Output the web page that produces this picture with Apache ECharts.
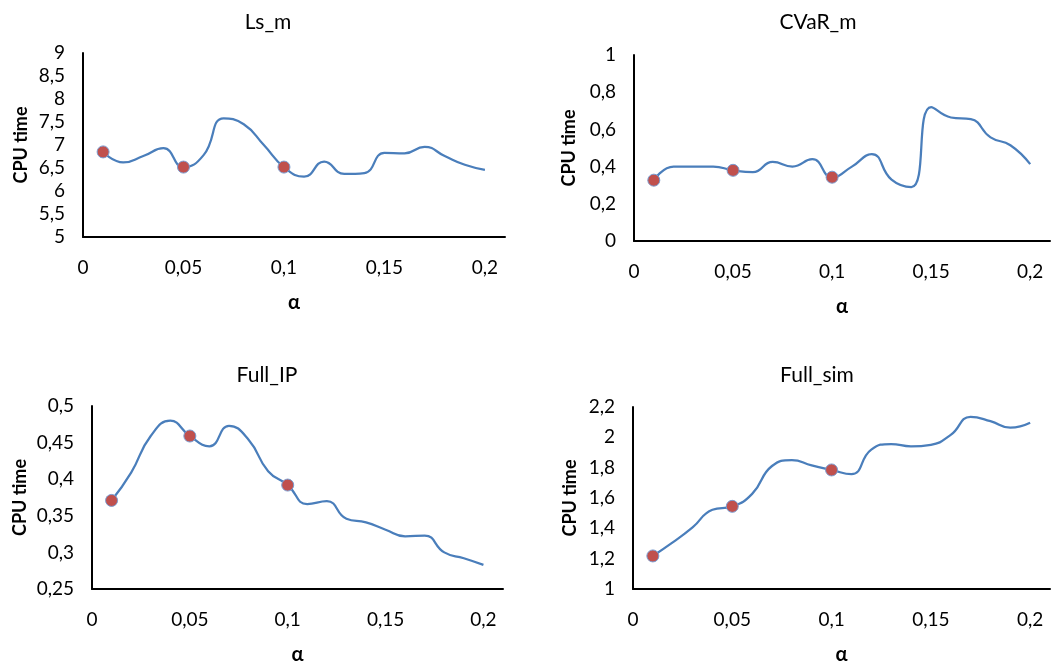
<!DOCTYPE html>
<html>
<head>
<meta charset="utf-8">
<script src="https://cdn.jsdelivr.net/npm/echarts@6/dist/echarts.min.js"></script>
<style>
  html, body { margin: 0; padding: 0; background: #fff; }
  #chart { width: 1053px; height: 666px; }
</style>
</head>
<body>
<div id="chart"></div>
<script>
// Significance level α and CPU time per method
const alpha = [0.01, 0.02, 0.03, 0.04, 0.05, 0.06, 0.07, 0.08, 0.09, 0.10,
               0.11, 0.12, 0.13, 0.14, 0.15, 0.16, 0.17, 0.18, 0.19, 0.20];
const lsM     = [6.85, 6.62, 6.76, 6.93, 6.52, 6.78, 7.58, 7.45, 7.00, 6.52,
                 6.31, 6.64, 6.37, 6.39, 6.83, 6.82, 6.96, 6.76, 6.57, 6.46];
const cvarM   = [0.327, 0.40, 0.40, 0.40, 0.38, 0.37, 0.425, 0.40, 0.44, 0.343,
                 0.40, 0.467, 0.33, 0.29, 0.72, 0.664, 0.655, 0.557, 0.515, 0.413];
const fullIP  = [0.371, 0.409, 0.459, 0.480, 0.459, 0.445, 0.473, 0.454, 0.411, 0.392,
                 0.366, 0.370, 0.346, 0.341, 0.331, 0.322, 0.323, 0.300, 0.292, 0.283];
const fullSim = [1.218, 1.307, 1.406, 1.523, 1.545, 1.627, 1.811, 1.850, 1.815, 1.785,
                 1.757, 1.919, 1.956, 1.941, 1.951, 2.016, 2.135, 2.107, 2.064, 2.096];
// α levels highlighted with a marker
const markedAlpha = [0.01, 0.05, 0.10];

const panelTitles = ['Ls_m', 'CVaR_m', 'Full_IP', 'Full_sim'];
const panelSeries = [lsM, cvarM, fullIP, fullSim];
const yRanges = [[5, 9, 0.5], [0, 1, 0.2], [0.25, 0.5, 0.05], [1, 2.2, 0.2]];

const grids = [
  { left: 83,  top: 53,  width: 422, height: 184 },
  { left: 634, top: 55,  width: 421, height: 186 },
  { left: 92,  top: 406, width: 411, height: 185 },
  { left: 633, top: 407, width: 421, height: 185 }
];
const titlePos = [[263, 7], [813, 7], [262, 360], [812, 360]];
const yNameGap = [53, 56, 63, 54];

const FONT = 'Lato, "Open Sans", sans-serif';
const comma = v => String(+(+v).toFixed(3)).replace('.', ',');

const option = {
  backgroundColor: '#fff',
  animation: false,
  title: panelTitles.map((t, i) => ({
    text: t,
    left: titlePos[i][0],
    top: titlePos[i][1],
    textAlign: 'center',
    textStyle: { fontFamily: FONT, fontSize: 21, fontWeight: 'normal', color: '#000' }
  })),
  grid: grids,
  xAxis: grids.map((g, i) => ({
    type: 'value',
    gridIndex: i,
    min: 0,
    max: 0.21,
    interval: 0.05,
    name: 'α',
    nameLocation: 'middle',
    nameGap: 56,
    nameTextStyle: { fontFamily: FONT, fontSize: 20, fontWeight: 'bold', color: '#000' },
    axisLine: { show: true, onZero: false, lineStyle: { color: '#000', width: 2 } },
    axisTick: { show: false },
    splitLine: { show: false },
    axisLabel: {
      margin: 21,
      fontFamily: FONT, fontSize: 19, color: '#000',
      formatter: v => (v > 0.2001 ? '' : comma(v))
    }
  })),
  yAxis: grids.map((g, i) => ({
    type: 'value',
    gridIndex: i,
    min: yRanges[i][0],
    max: yRanges[i][1],
    interval: yRanges[i][2],
    name: 'CPU time',
    nameLocation: 'middle',
    nameGap: yNameGap[i],
    nameTextStyle: { fontFamily: FONT, fontSize: 18, fontWeight: 'bold', color: '#000' },
    axisLine: { show: true, onZero: false, lineStyle: { color: '#000', width: 2 } },
    axisTick: { show: false },
    splitLine: { show: false },
    axisLabel: {
      margin: 18,
      fontFamily: FONT, fontSize: 19, color: '#000',
      formatter: v => comma(v)
    }
  })),
  series: []
};

panelSeries.forEach((vals, i) => {
  option.series.push({
    type: 'line',
    xAxisIndex: i,
    yAxisIndex: i,
    data: alpha.map((a, k) => [a, vals[k]]),
    smooth: 0.5,
    showSymbol: false,
    lineStyle: { color: '#4A7EBB', width: 2.25 },
    z: 2
  });
  option.series.push({
    type: 'scatter',
    xAxisIndex: i,
    yAxisIndex: i,
    data: markedAlpha.map(a => {
      const k = alpha.findIndex(x => Math.abs(x - a) < 1e-9);
      return [a, vals[k]];
    }),
    symbol: 'circle',
    symbolSize: 12,
    itemStyle: { color: '#C0504D', opacity: 1, borderColor: '#7A9CD0', borderWidth: 1 },
    z: 3
  });
});

const chart = echarts.init(document.getElementById('chart'), null, { renderer: 'canvas' });
chart.setOption(option);
</script>
</body>
</html>
